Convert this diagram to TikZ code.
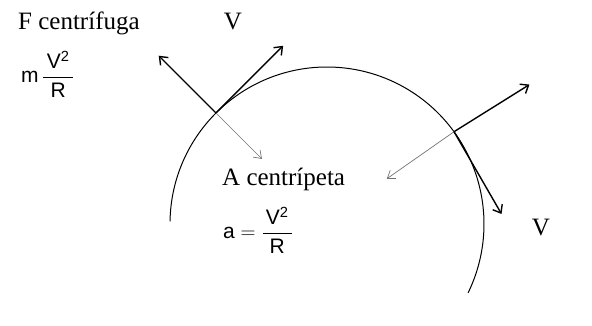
\documentclass[tikz,border=0pt]{standalone}
\usepackage{amsmath}
\usepackage{fontspec}
\setmainfont{Liberation Serif}
\setsansfont{Liberation Sans}
\usetikzlibrary{calc}
\usetikzlibrary{arrows.meta}

\begin{document}
\begin{tikzpicture}[
		x=1pt,y=1pt,
		vec/.style={line width=1.4pt,-{Straight Barb[length=7pt,width=11pt]}},
		acc/.style={line width=0.7pt,black!55,-{Straight Barb[length=7pt,width=10pt]}},
		lbl/.style={inner sep=0pt,font=\fontsize{25}{28}\selectfont},
		frm/.style={inner sep=0pt,font=\fontsize{21}{24}\selectfont\sffamily}
		]
		\useasboundingbox (0,0) rectangle (592,325);
		
		% Circle of the path
		\def\rad{157}
		\coordinate (c) at (327,101);
		\draw[line width=1pt] ($(c)+(179:\rad)$) arc[start angle=179,end angle=-26,radius=\rad];
		
		% Points on the path
		\coordinate (p1) at ($(c)+(135:\rad)$);
		\coordinate (p2) at ($(c)+(36:\rad)$);
		
		% Arrow tips
		\coordinate (v1) at ($(p1)+(45:95)$);
		\coordinate (f1) at ($(p1)+(135:81)$);
		\coordinate (a1) at ($(p1)+(-45:65)$);
		\coordinate (v2) at ($(p2)+(-60:95)$);
		\coordinate (f2) at ($(p2)+(32:89)$);
		\coordinate (a2) at ($(p2)+(215:82)$);
		
		\draw[acc] (p1)--(a1);
		\draw[acc] (p2)--(a2);
		\draw[vec] (p1)--(v1);
		\draw[vec] (p1)--(f1);
		\draw[vec] (p2)--(v2);
		\draw[vec] (p2)--(f2);
		
		% Labels
		\node[lbl,anchor=base west] (fcen) at (18,295) {F centrífuga};
		\node[frm,anchor=west] (fform) at (21,251) {$\displaystyle\mathsf{m}\,\frac{\,\mathsf{V}^{\mathsf{2}}\,}{\mathsf{R}}$};
		\node[lbl,anchor=base] (vtop) at (233,296) {V};
		\node[lbl,anchor=base west] (acen) at (222,140) {A centrípeta};
		\node[frm,anchor=west] (aform) at (223,95) {$\displaystyle\mathsf{a}=\frac{\,\mathsf{V}^{\mathsf{2}}\,}{\mathsf{R}}$};
		\node[lbl,anchor=base] (vright) at (541,90) {V};
		
	\end{tikzpicture}
\end{document}
